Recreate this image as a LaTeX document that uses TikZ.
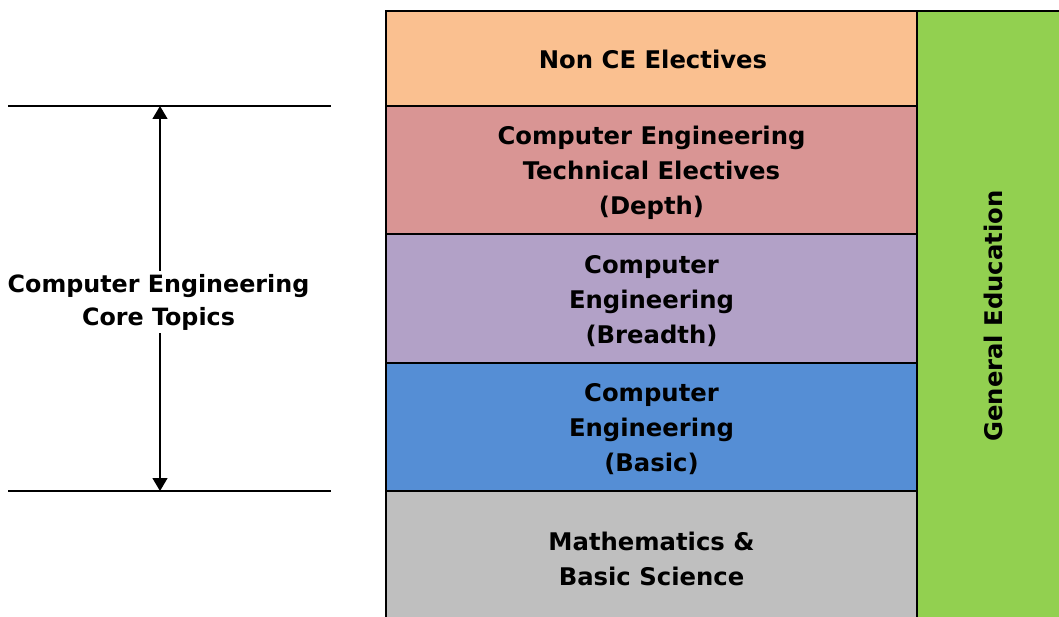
\documentclass[tikz,border=0pt]{standalone}
\usepackage{fontspec}
\setmainfont{DejaVu Sans}
\usetikzlibrary{arrows.meta}

\definecolor{peach}{HTML}{FAC090}
\definecolor{rosy}{HTML}{D99594}
\definecolor{lilac}{HTML}{B2A1C7}
\definecolor{skyblue}{HTML}{558ED5}
\definecolor{silver}{HTML}{BFBFBF}
\definecolor{leaf}{HTML}{92D050}

\begin{document}
\begin{tikzpicture}[x=1pt, y=-1pt,
	layer/.style={shape=rectangle, draw=black, line width=1.6pt, inner sep=0pt, outer sep=0pt,
		minimum width=531pt},
	caption/.style={align=center, font=\fontsize{24.3}{35}\selectfont\bfseries},
	rule/.style={line width=1.4pt}
	]
	
	\useasboundingbox (0,0) rectangle (1059,617);
	\clip (0,0) rectangle (1059,617);
	
	\node[layer, fill=peach,   minimum height=95pt]  (nonce)   at (651.5, 58.5) {};
	\node[layer, fill=rosy,    minimum height=128pt] (depth)   at (651.5, 170)  {};
	\node[layer, fill=lilac,   minimum height=129pt] (breadth) at (651.5, 298.5) {};
	\node[layer, fill=skyblue, minimum height=128pt] (basic)   at (651.5, 427)  {};
	\node[layer, fill=silver,  minimum height=140pt] (math)    at (651.5, 561)  {};
	\node[layer, fill=leaf, minimum width=170pt, minimum height=620pt] (gened) at (1002, 321) {};
	
	\node[caption] (nonceText)   at (653, 59)  {Non CE Electives};
	\node[caption] (depthText)   at (651.5, 172.5) {Computer Engineering\\Technical Electives\\(Depth)};
	\node[caption] (breadthText) at (651.5, 301.5) {Computer\\Engineering\\(Breadth)};
	\node[caption] (basicText)   at (651.5, 429.5) {Computer\\Engineering\\(Basic)};
	\node[caption] (mathText)    at (651.5, 559) {Mathematics \&\\Basic Science};
	\node[caption, rotate=90] (genedText) at (993, 316) {General Education};
	
	\coordinate (topL) at (8, 106);
	\coordinate (topR) at (331, 106);
	\coordinate (botL) at (8, 491);
	\coordinate (botR) at (331, 491);
	\coordinate (topA) at (160, 106);
	\coordinate (botA) at (160, 491);
	
	\draw[rule] (topL) -- (topR);
	\draw[rule] (botL) -- (botR);
	
	\node[align=center, inner sep=3pt, font=\fontsize{23.8}{33}\selectfont\bfseries] (core) at (158.5, 302) {Computer Engineering\\Core Topics};
	
	\draw[rule, -{Triangle[length=13pt, width=15pt]}] (core.north -| topA) -- (topA);
	\draw[rule, -{Triangle[length=13pt, width=15pt]}] (core.south -| botA) -- (botA);
	
\end{tikzpicture}
\end{document}
